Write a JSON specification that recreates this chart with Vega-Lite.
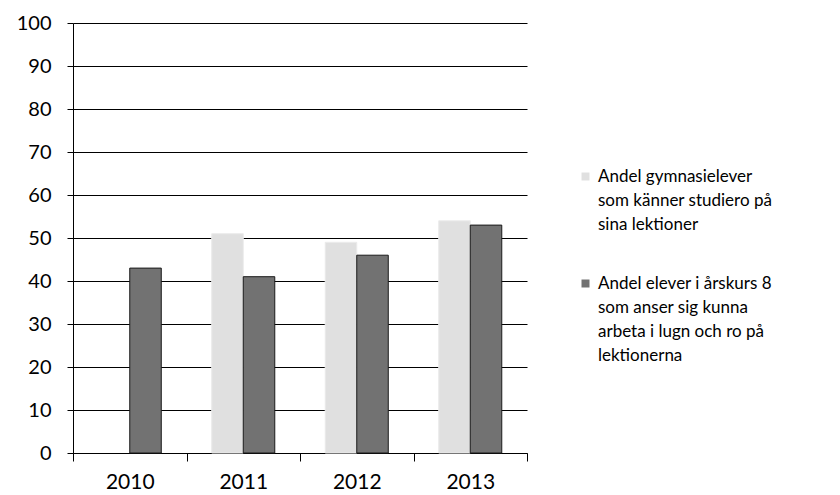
{
  "$schema": "https://vega.github.io/schema/vega-lite/v6.json",
  "width": 454,
  "height": 430,
  "autosize": {"type": "none"},
  "padding": {"left": 73, "top": 23, "right": 313, "bottom": 42},
  "background": "white",
  "data": {
    "values": [
      {"year": "2010", "series": "Andel elever i årskurs 8|som anser sig kunna|arbeta i lugn och ro på|lektionerna", "value": 43},
      {"year": "2011", "series": "Andel gymnasielever|som känner studiero på|sina lektioner", "value": 51},
      {"year": "2011", "series": "Andel elever i årskurs 8|som anser sig kunna|arbeta i lugn och ro på|lektionerna", "value": 41},
      {"year": "2012", "series": "Andel gymnasielever|som känner studiero på|sina lektioner", "value": 49},
      {"year": "2012", "series": "Andel elever i årskurs 8|som anser sig kunna|arbeta i lugn och ro på|lektionerna", "value": 46},
      {"year": "2013", "series": "Andel gymnasielever|som känner studiero på|sina lektioner", "value": 54},
      {"year": "2013", "series": "Andel elever i årskurs 8|som anser sig kunna|arbeta i lugn och ro på|lektionerna", "value": 53}
    ]
  },
  "mark": {"type": "bar", "strokeWidth": 1},
  "encoding": {
    "x": {
      "field": "year", "type": "nominal",
      "scale": {"paddingInner": 0, "paddingOuter": 0},
      "axis": {
        "title": null, "labelAngle": 0, "tickBand": "extent", "grid": false,
        "domainColor": "black", "tickColor": "black", "tickSize": 8,
        "labelFont": "Lato", "labelFontSize": 21, "labelColor": "black",
        "labelPadding": 10
      }
    },
    "xOffset": {
      "field": "series", "type": "nominal",
      "scale": {"paddingInner": 0, "paddingOuter": 0.8, "domain": ["Andel gymnasielever|som känner studiero på|sina lektioner", "Andel elever i årskurs 8|som anser sig kunna|arbeta i lugn och ro på|lektionerna"]}
    },
    "y": {
      "field": "value", "type": "quantitative",
      "scale": {"domain": [0, 100]},
      "axis": {
        "title": null, "values": [0,10,20,30,40,50,60,70,80,90,100],
        "grid": true, "gridColor": "black", "gridOpacity": 1, "gridWidth": 1.2,
        "domainColor": "black", "tickColor": "black", "tickSize": 6,
        "labelFont": "Lato", "labelFontSize": 20, "labelColor": "black",
        "labelPadding": 16
      }
    },
    "color": {
      "field": "series", "type": "nominal",
      "scale": {
        "domain": ["Andel gymnasielever|som känner studiero på|sina lektioner", "Andel elever i årskurs 8|som anser sig kunna|arbeta i lugn och ro på|lektionerna"],
        "range": ["#e0e0e0", "#727272"]
      },
      "legend": {
        "title": null, "orient": "none", "legendX": 504, "legendY": 145,
        "labelExpr": "split(datum.label, '|')",
        "labelFont": "Lato", "labelFontSize": 17, "labelColor": "black",
        "labelBaseline": "middle", "labelLimit": 300,
        "symbolType": "square", "symbolSize": 64, "symbolStrokeWidth": 0,
        "rowPadding": 41, "labelOffset": 4
      }
    },
    "stroke": {
      "field": "series", "type": "nominal",
      "scale": {
        "domain": ["Andel gymnasielever|som känner studiero på|sina lektioner", "Andel elever i årskurs 8|som anser sig kunna|arbeta i lugn och ro på|lektionerna"],
        "range": ["#ebebeb", "#1a1a1a"]
      },
      "legend": null
    }
  },
  "config": {
    "view": {"stroke": null},
    "style": {"guide-label": {"lineHeight": 24}}
  }
}
